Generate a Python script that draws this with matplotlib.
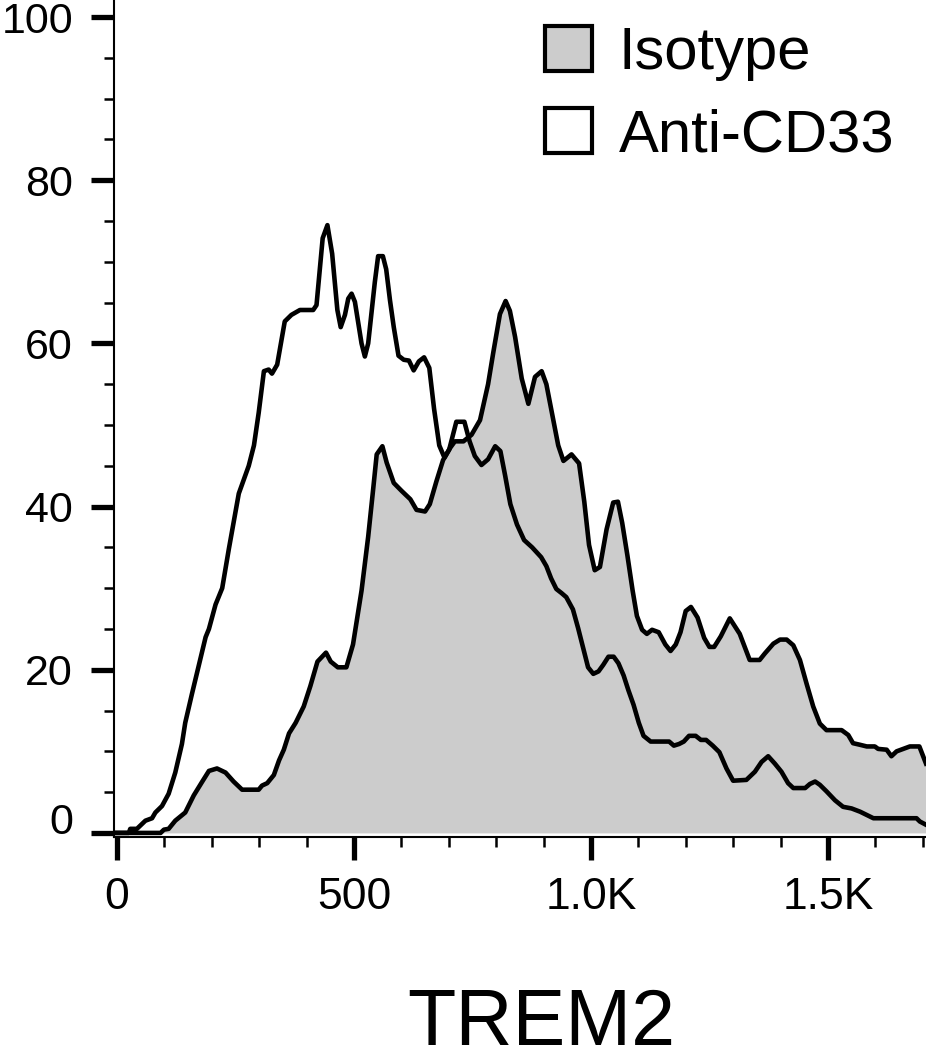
import matplotlib
matplotlib.use("Agg")
import matplotlib.pyplot as plt
from matplotlib.patches import Patch
from matplotlib.ticker import MultipleLocator, FixedLocator, FixedFormatter
from matplotlib.transforms import ScaledTranslation

plt.rcParams['font.family'] = ['Liberation Sans', 'DejaVu Sans']

# ---- data (TREM2 fluorescence, % of max) ----
iso_x = [-10, 92, 99, 109, 123, 144, 162, 180, 194, 211,
         229, 246, 264, 299, 306, 317, 331, 342, 352, 363,
         377, 394, 408, 423, 441, 451, 466, 484, 498, 516,
         530, 541, 548, 560, 569, 584, 601, 619, 632, 650,
         660, 674, 688, 703, 713, 731, 748, 766, 783, 794,
         808, 820, 829, 840, 854, 868, 882, 896, 906, 920,
         931, 942, 959, 975, 986, 996, 1008, 1019, 1033, 1047,
         1057, 1066, 1077, 1088, 1097, 1108, 1118, 1129, 1143, 1157,
         1168, 1179, 1189, 1200, 1211, 1225, 1239, 1250, 1260, 1274,
         1293, 1314, 1335, 1356, 1367, 1385, 1399, 1413, 1427, 1441,
         1455, 1469, 1483, 1497, 1529, 1543, 1553, 1568, 1582, 1599,
         1606, 1624, 1634, 1645, 1659, 1673, 1693, 1707]
iso_y = [0, 0, 0.4, 0.5, 1.5, 2.5, 4.6, 6.3, 7.6, 7.9,
         7.4, 6.3, 5.3, 5.3, 5.8, 6.1, 7.1, 8.9, 10.2, 12.2,
         13.5, 15.5, 18, 21, 22.1, 21, 20.3, 20.3, 23.1, 29.7,
         36.3, 42.4, 46.4, 47.4, 45.4, 42.9, 41.9, 40.9, 39.6, 39.4,
         40.3, 43.1, 45.7, 47.2, 48, 48, 48.8, 50.6, 55, 58.9,
         63.6, 65.2, 64, 60.8, 55.7, 52.6, 55.9, 56.6, 55, 50.8,
         47.5, 45.6, 46.4, 45.3, 40.6, 35.3, 32.2, 32.6, 37.2, 40.5,
         40.6, 38, 34, 29.7, 26.6, 24.9, 24.4, 24.9, 24.6, 23.1,
         22.3, 23.1, 24.6, 27.2, 27.7, 26.4, 23.9, 22.8, 22.8, 24.1,
         26.3, 24.4, 21.2, 21.2, 22, 23.2, 23.7, 23.7, 23, 21.2,
         18.3, 15.5, 13.4, 12.6, 12.6, 12, 11, 10.8, 10.6, 10.6,
         10.3, 10.2, 9.4, 10, 10.3, 10.6, 10.6, 8.5]

cd33_x = [-10, 25, 28, 42, 60, 74, 81, 95, 109, 123,
          137, 144, 158, 173, 187, 194, 208, 222, 236, 250,
          257, 278, 289, 299, 310, 320, 327, 338, 354, 368,
          386, 414, 421, 434, 444, 454, 465, 472, 481, 488,
          495, 502, 516, 523, 530, 544, 551, 561, 568, 576,
          584, 594, 605, 616, 626, 637, 648, 659, 669, 680,
          691, 701, 716, 733, 744, 755, 769, 783, 798, 809,
          819, 830, 844, 859, 876, 884, 895, 906, 916, 927,
          938, 948, 962, 973, 984, 994, 1005, 1016, 1026, 1037,
          1048, 1058, 1069, 1079, 1090, 1101, 1111, 1126, 1147, 1165,
          1175, 1186, 1196, 1207, 1221, 1232, 1243, 1257, 1271, 1286,
          1300, 1328, 1346, 1360, 1374, 1388, 1402, 1416, 1427, 1452,
          1462, 1473, 1483, 1497, 1515, 1532, 1550, 1568, 1582, 1596,
          1610, 1687, 1694, 1707]
cd33_y = [0, 0, 0.5, 0.5, 1.5, 1.8, 2.5, 3.3, 4.8, 7.4,
          10.9, 13.5, 17, 20.6, 24, 25, 28, 30, 34.8, 39.3,
          41.6, 45, 47.5, 51.5, 56.6, 56.8, 56.3, 57.4, 62.7, 63.5,
          64.1, 64.1, 64.7, 72.9, 74.5, 71, 64.1, 62, 63.5, 65.5,
          66.1, 65.1, 60, 58.4, 60, 67.5, 70.7, 70.7, 69.1, 65.3,
          62, 58.5, 58, 57.9, 56.7, 57.8, 58.3, 57, 52, 47.5,
          46, 47, 50.4, 50.4, 48, 46.2, 45.1, 45.8, 47.4, 46.8,
          43.8, 40.3, 37.8, 35.9, 35, 34.5, 33.8, 32.7, 31.2, 29.9,
          29.4, 28.9, 27.4, 25.1, 22.6, 20.3, 19.5, 19.8, 20.6, 21.6,
          21.6, 20.8, 19.3, 17.5, 15.7, 13.5, 11.9, 11.2, 11.2, 11.2,
          10.7, 10.9, 11.2, 11.9, 11.9, 11.4, 11.4, 10.7, 9.9, 7.9,
          6.4, 6.5, 7.5, 8.7, 9.4, 8.5, 7.5, 6.1, 5.5, 5.5,
          6, 6.3, 5.9, 5.1, 4, 3.2, 3, 2.6, 2.2, 1.8,
          1.8, 1.8, 1.4, 1]

series_labels = ["Isotype", "Anti-CD33"]
x_major = [0, 500, 1000, 1500]
x_major_labels = ["0", "500", "1.0K", "1.5K"]
y_major = [0, 20, 40, 60, 80, 100]
x_title = "TREM2"

# ---- figure ----
fig = plt.figure(figsize=(9.26, 10.5), dpi=100)
ax = fig.add_axes([114 / 926, (1050 - 837) / 1050, (926 - 114) / 926, 837 / 1050])

grey = "#cccccc"
ax.fill_between(iso_x, iso_y, 0, color=grey, lw=0, zorder=1)
ax.plot(iso_x, iso_y, color="black", lw=3.3, zorder=3)
ax.plot(cd33_x, cd33_y, color="black", lw=3.3, zorder=3)

ax.set_xlim(-6.3, 1707)
ax.set_ylim(-0.5, 102.1)

for s in ["top", "right"]:
    ax.spines[s].set_visible(False)
for s in ["left", "bottom"]:
    ax.spines[s].set_linewidth(1.5)

ax.xaxis.set_major_locator(FixedLocator(x_major))
ax.xaxis.set_major_formatter(FixedFormatter(x_major_labels))
ax.xaxis.set_minor_locator(MultipleLocator(100))
ax.yaxis.set_major_locator(FixedLocator(y_major))
ax.yaxis.set_minor_locator(MultipleLocator(5))

ax.tick_params(axis="both", which="major", length=16.5, width=3.8,
               labelsize=32, pad=12, direction="out")
ax.tick_params(axis="y", which="major", pad=13, labelsize=31)
ax.tick_params(axis="both", which="minor", length=7.2, width=1.8, direction="out")

# the "0" label on the y axis sits a little above its tick in the reference
zero_tick = ax.yaxis.get_major_ticks()[0]
zero_tick.label1.set_transform(zero_tick.label1.get_transform()
                               + ScaledTranslation(0, 0.14, fig.dpi_scale_trans))

handles = [Patch(facecolor=grey, edgecolor="black", lw=3),
           Patch(facecolor="white", edgecolor="black", lw=3)]
leg = ax.legend(handles, series_labels, loc="upper left",
                bbox_to_anchor=(545 / 926, 1 - 26 / 1050),
                bbox_transform=fig.transFigure,
                frameon=False, fontsize=43, borderpad=0, borderaxespad=0,
                handlelength=0.78, handleheight=0.78, handletextpad=0.45,
                labelspacing=0.45)

fig.text(541 / 926, 1 - 1045 / 1050, x_title, ha="center", va="baseline",
         fontsize=57)

fig.savefig("out.png", dpi=100)
